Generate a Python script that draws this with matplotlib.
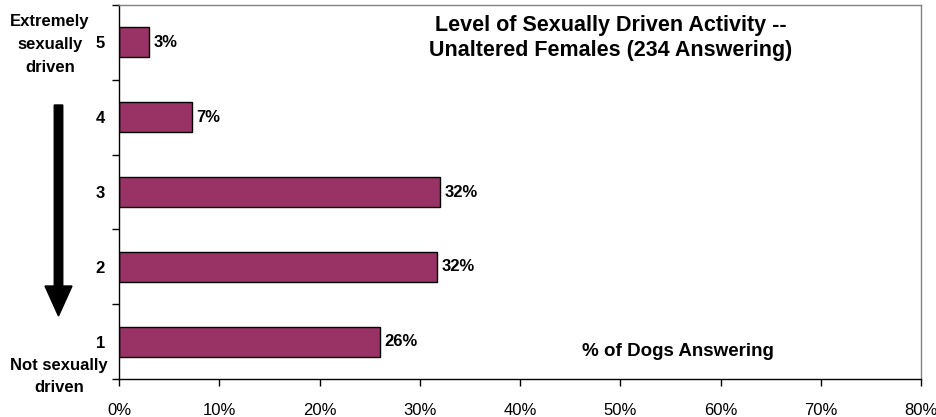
import numpy as np
import matplotlib
matplotlib.use("Agg")
import matplotlib.pyplot as plt
from matplotlib.patches import FancyArrow
from matplotlib.ticker import MultipleLocator, FuncFormatter, FixedLocator

plt.rcParams["font.family"] = ["Liberation Sans", "DejaVu Sans"]

levels = ["1", "2", "3", "4", "5"]
pct = [26.0, 31.7, 32.0, 7.3, 3.0]
bar_labels = ["26%", "32%", "32%", "7%", "3%"]
title = "Level of Sexually Driven Activity --\nUnaltered Females (234 Answering)"
xlabel = "% of Dogs Answering"

fig = plt.figure(figsize=(9.36, 4.17), dpi=100)
ax = fig.add_axes([119/936, 38/417, 802/936, 374/417])

y = np.arange(1, len(levels) + 1)
bars = ax.barh(y, pct, height=0.4, color="#993366", edgecolor="black", linewidth=1.0)
for rect, lab in zip(bars, bar_labels):
    ax.text(rect.get_width() + 0.45, rect.get_y() + rect.get_height()/2, lab,
            ha="left", va="center", fontsize=12, fontweight="bold")

ax.set_xlim(0, 80)
ax.set_ylim(0.5, 5.5)
ax.xaxis.set_major_locator(MultipleLocator(10))
ax.xaxis.set_major_formatter(FuncFormatter(lambda v, p: f"{v:.0f}%"))
ax.set_yticks(y)
ax.set_yticklabels(levels, fontsize=12, fontweight="bold")
ax.yaxis.set_minor_locator(FixedLocator(np.arange(0.5, 6, 1)))
ax.tick_params(axis="y", which="major", length=0, pad=10)
ax.tick_params(axis="y", which="minor", length=5, width=1.0, direction="out")
ax.tick_params(axis="x", which="major", length=5, width=1.0, direction="out",
               labelsize=12, pad=12)
for s in ("left", "bottom"):
    ax.spines[s].set_color("black")
    ax.spines[s].set_linewidth(1.0)
for s in ("top", "right"):
    ax.spines[s].set_color("#808080")
    ax.spines[s].set_linewidth(1.0)

fig.text(611/936, 1 - 38/417, title, ha="center", va="center",
         fontsize=15.5, fontweight="bold", linespacing=1.3)
fig.text(678/936, 1 - 352/417, xlabel, ha="center", va="center",
         fontsize=13.5, fontweight="bold")

fig.text(50/936, 1 - 44.5/417, "Extremely\nsexually\ndriven", ha="center", va="center",
         fontsize=12, fontweight="bold", linespacing=1.65)
fig.text(59/936, 1 - 376.5/417, "Not sexually\ndriven", ha="center", va="center",
         fontsize=12, fontweight="bold", linespacing=1.65)

arrow = FancyArrow(0.585, 4.17 - 1.05, 0, -2.11, width=0.085, head_width=0.27,
                   head_length=0.30, length_includes_head=True,
                   color="black", transform=fig.dpi_scale_trans)
fig.add_artist(arrow)

fig.savefig("out.png", dpi=100)
